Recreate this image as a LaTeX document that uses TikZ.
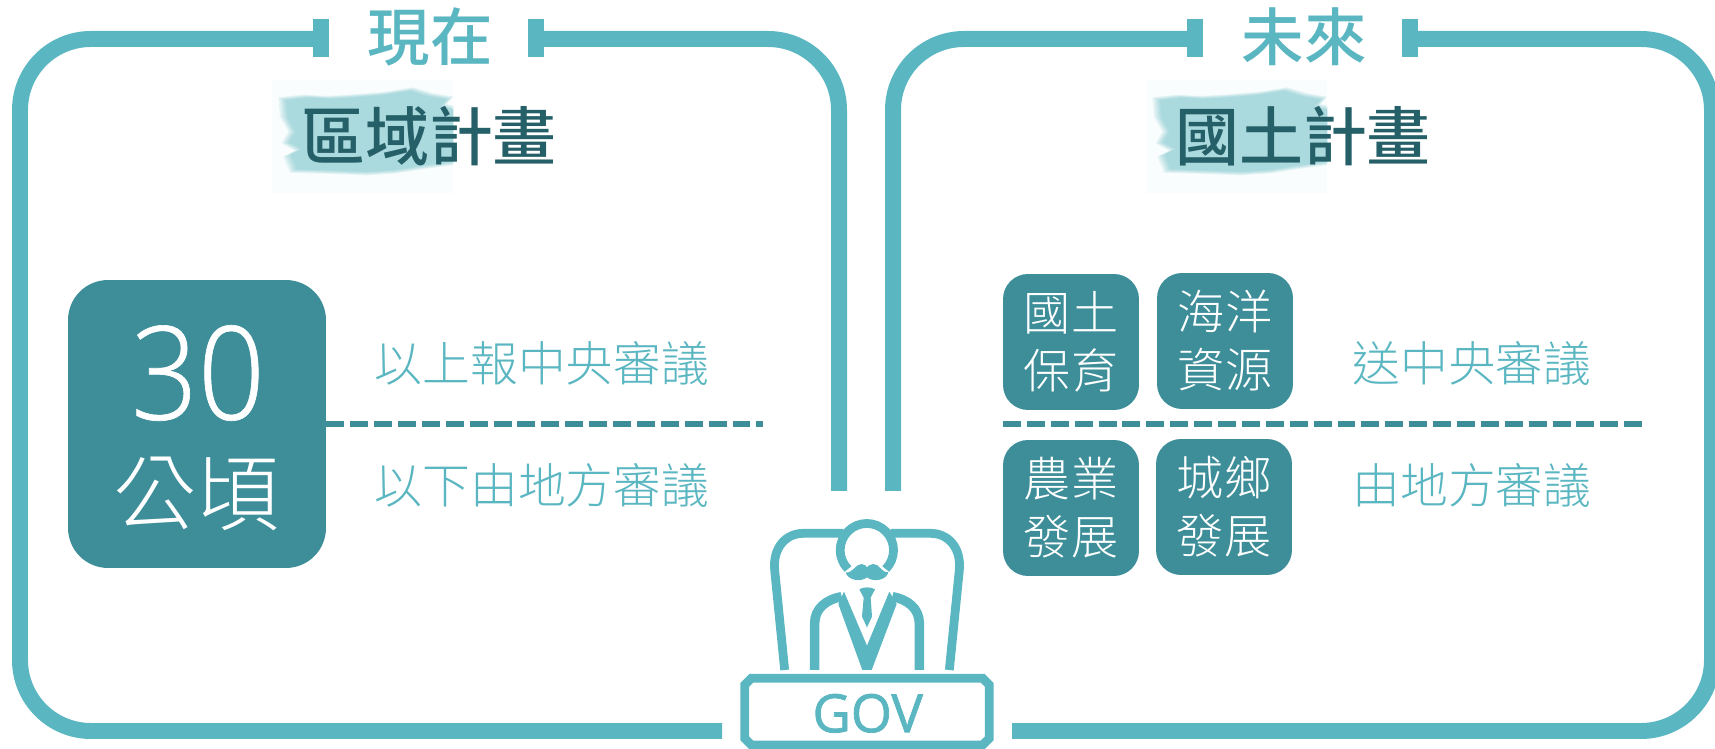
\documentclass[tikz,border=0pt]{standalone}
\usepackage{fontspec}
\usepackage{xcolor}
\setmainfont{Noto Sans CJK TC Light}
\newfontfamily\TitleFont{Noto Sans CJK TC Medium}
\newfontfamily\NumFont[FakeStretch=0.9,FakeBold=0.5]{Open Sans Light}
\newfontfamily\GovFont[FakeBold=1.5]{Open Sans}
\definecolor{FrameTeal}{HTML}{5AB6C1}
\definecolor{BoxTeal}{HTML}{3D8E99}
\definecolor{HeadTeal}{HTML}{255F68}
\newcommand{\WashShape}{(115,292) -- (190,284) -- (260,288) -- (330,284) -- (430,276) -- (520,262) -- (580,280) -- (640,290) -- (620,312) -- (680,330) -- (680,490) -- (560,506) -- (470,520) -- (380,526) -- (280,522) -- (150,518) -- (130,470) -- (165,452) -- (125,430) -- (145,395) -- (120,350) -- cycle}
\tikzset{
	frameline/.style={draw=FrameTeal,line width=9.1pt,rounded corners=1.42cm},
	barline/.style={draw=FrameTeal,line width=9.1pt},
	splitline/.style={draw=BoxTeal,line width=3.4pt,dash pattern=on 10.2pt off 3.4pt},
	iconline/.style={draw=FrameTeal,line width=5pt},
	icontip/.style={fill=FrameTeal,draw=none},
	period/.style={inner sep=0,text=FrameTeal,font=\TitleFont\fontsize{35.6}{36}\selectfont},
	headline/.style={inner sep=0,text=HeadTeal,font=\TitleFont\fontsize{36.4}{37}\selectfont},
	review/.style={inner sep=0,text=FrameTeal,font=\fontsize{27.2}{28}\selectfont},
	bigbox/.style={fill=BoxTeal,rounded corners=0.8cm,minimum width=5.16cm,minimum height=5.76cm,inner sep=0},
	smallbox/.style={fill=BoxTeal,rounded corners=0.5cm,minimum width=2.72cm,minimum height=2.72cm,inner sep=0,
		text=white,align=center,font=\fontsize{26.8}{33}\selectfont},
	brush/.pic={
		\fill[fill=FrameTeal!3] (97,240) rectangle (640,578);% Pale Paper
		\clip (97,240) rectangle (640,578);
		\foreach \Shrink in {1,0.98,0.96,0.94,0.92}{
			\fill[FrameTeal,fill opacity=0.12,shift={(400,395)},scale=\Shrink,shift={(-400,-395)}] \WashShape;% Soft Wash
		}
	},
}

\begin{document}
\begin{tikzpicture}[x=0.02cm,y=-0.02cm]
	\useasboundingbox (0,0) rectangle (1715,749);

	\coordinate (LT) at (321,39);
	\coordinate (LS) at (536,39);
	\coordinate (LE) at (839,491);
	\coordinate (LB) at (722,731);
	\coordinate (RT) at (1197,39);
	\coordinate (RS) at (1410,39);
	\coordinate (RE) at (893,491);
	\coordinate (RB) at (1012,731);
	\coordinate (RD) at (1647,424);
	\coordinate (LD) at (763,424);

	% Frames
	\draw[frameline] (LT) -- (20,39) -- (20,731) -- (LB);
	\draw[frameline] (LS) -- (839,39) -- (LE);
	\draw[frameline] (RT) -- (893,39) -- (RE);
	\draw[frameline] (RS) -- (1712,39) -- (1712,731) -- (RB);
	\draw[barline] (321,19) -- (321,57);
	\draw[barline] (536,19) -- (536,57);
	\draw[barline] (1195,19) -- (1195,57);
	\draw[barline] (1410,19) -- (1410,57);

	% Titles
	\pic at (240,0) [scale=1/3] {brush};
	\pic at (1114,0) [scale=1/3] {brush};
	\node[period] (now) at (430,37) {現在};
	\node[period] (future) at (1304,37) {未來};
	\node[headline] (regional) at (429,136) {區域計畫};
	\node[headline] (national) at (1303,136) {國土計畫};

	% Left Side
	\node[bigbox] (hectare) at (197,424) {};
	\node[inner sep=0,text=white,font=\NumFont\fontsize{74}{74}\selectfont] (thirty) at (198,373) {30};
	\node[inner sep=0,text=white,font=\fontsize{47.5}{48}\selectfont] (unit) at (197,494) {公頃};
	\draw[splitline] (hectare.east) -- (LD);
	\node[review] (above) at (542,363) {以上報中央審議};
	\node[review] (below) at (542,485) {以下由地方審議};

	% Right Side
	\node[smallbox] (land) at (1071,342) {國土\\保育};
	\node[smallbox] (ocean) at (1225,341) {海洋\\資源};
	\node[smallbox] (farm) at (1071,508) {農業\\發展};
	\node[smallbox] (urban) at (1224,507) {城鄉\\發展};
	\draw[splitline] (1003,424) -- (RD);
	\node[review] (central) at (1472,363) {送中央審議};
	\node[review] (local) at (1472,485) {由地方審議};

	% Official
	\begin{scope}[shift={(700,480)},scale=1/3]
		\draw[iconline] (254,570) -- (224,270) .. controls (218,200) and (260,160) .. (310,160) -- (430,160);% Chair Left
		\draw[iconline] (748,570) -- (778,270) .. controls (784,200) and (742,160) .. (692,160) -- (572,160);% Chair Right
		\draw[iconline] (444,267) arc[start angle=135,end angle=405,radius=80];% Head
		\fill[icontip] (437,277) .. controls (460,280) and (465,252) .. (485,252) .. controls (495,252) and (498,258) .. (501,262) .. controls (505,258) and (510,252) .. (520,252) .. controls (540,252) and (545,280) .. (565,277) .. controls (560,300) and (520,308) .. (501,292) .. controls (482,308) and (442,300) .. cycle;% Moustache
		\fill[icontip] (478,328) .. controls (490,320) and (512,320) .. (525,328) -- (512,353) -- (516,410) -- (501,442) -- (486,410) -- (491,353) -- cycle;% Tie
		\fill[icontip] (432,335) -- (501,497) -- (568,335) -- (590,372) -- (515,570) -- (487,570) -- (415,372) -- cycle;% Lapels
		\draw[iconline,line width=5.4pt] (344,570) -- (344,430) .. controls (344,385) and (380,358) .. (425,350);% Arm Left
		\draw[iconline,line width=5.4pt] (658,570) -- (658,430) .. controls (658,385) and (622,358) .. (577,350);% Arm Right
		\draw[iconline] (154,595) -- (848,595) -- (868,615) -- (868,775) -- (848,795) -- (154,795) -- (134,775) -- (134,615) -- cycle;% Desk
		\node[inner sep=0,text=FrameTeal,font=\GovFont\fontsize{30}{30}\selectfont] (gov) at (503,700) {GOV};
	\end{scope}
\end{tikzpicture}
\end{document}
